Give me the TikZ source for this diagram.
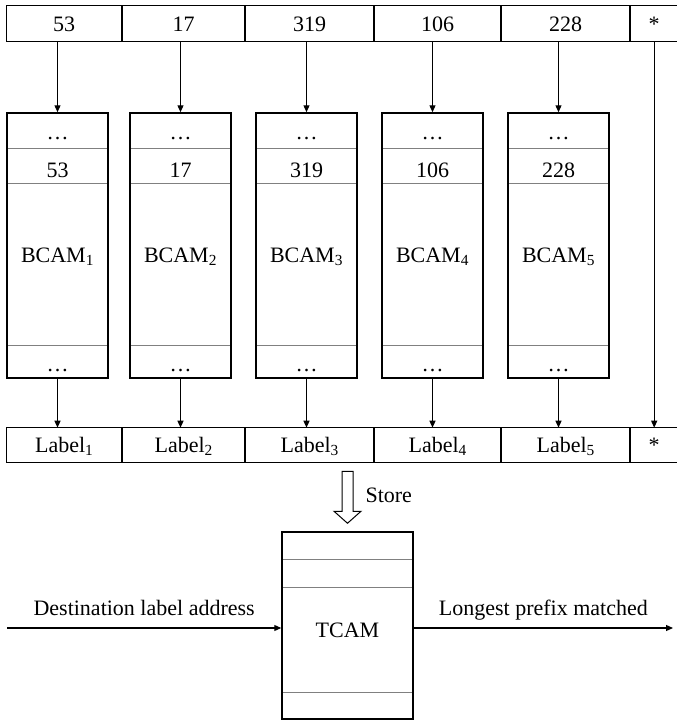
\documentclass[tikz,border=0pt]{standalone}
\usepackage{fontspec}
\setmainfont{Liberation Serif}
\usetikzlibrary{matrix,arrows.meta}

\begin{document}
\begin{tikzpicture}[x=1pt,y=-1pt,font=\fontsize{22}{26}\selectfont,
  cell/.style={draw,line width=1pt,outer sep=0pt,inner sep=0pt,text height=15pt,text depth=0pt},
  divider/.style={draw=gray,line width=.8pt},
  arr/.style={-{Triangle[length=7pt,width=6pt]},line width=1.2pt},
  bcam/.style={draw,line width=1.5pt,minimum width=101pt,minimum height=265pt,inner sep=0pt,
    path picture={\draw[divider]
      ([yshift=-35pt]path picture bounding box.north west) -- ([yshift=-35pt]path picture bounding box.north east)
      ([yshift=-70pt]path picture bounding box.north west) -- ([yshift=-70pt]path picture bounding box.north east)
      ([yshift=33pt]path picture bounding box.south west) -- ([yshift=33pt]path picture bounding box.south east);}},
  tcambox/.style={draw,line width=1.5pt,minimum width=131pt,minimum height=187pt,inner sep=0pt,
    path picture={\draw[divider]
      ([yshift=-27pt]path picture bounding box.north west) -- ([yshift=-27pt]path picture bounding box.north east)
      ([yshift=-55pt]path picture bounding box.north west) -- ([yshift=-55pt]path picture bounding box.north east)
      ([yshift=27pt]path picture bounding box.south west) -- ([yshift=27pt]path picture bounding box.south east);}},
  row/.style={matrix of nodes,anchor=north west,inner sep=0pt,column sep=0pt,
    column 1/.style={nodes={minimum width=115pt}},
    column 2/.style={nodes={minimum width=122pt}},
    column 3/.style={nodes={minimum width=128pt}},
    column 4/.style={nodes={minimum width=126pt}},
    column 5/.style={nodes={minimum width=128pt}},
    column 6/.style={nodes={minimum width=47pt}}}]
  \useasboundingbox (0,0) rectangle (677,723);

  % key row and label row
  \matrix (top) [row,nodes={cell,minimum height=36pt}] at (6,5)
  {
     53 & 17 & 319 & 106 & 228 & * \\};
  \matrix (lab) [row,nodes={cell,minimum height=35pt}] at (6,427)
  {
     Label\textsubscript{1} & Label\textsubscript{2} & Label\textsubscript{3} & Label\textsubscript{4} & Label\textsubscript{5} & * \\};

  % the five BCAMs
  \foreach \i/\x/\v in {1/57.5/53,2/180.5/17,3/306.5/319,4/432.5/106,5/558.5/228}
  {
    \node[bcam] (b\i) at (\x,245.5) {};
    \node[anchor=base] (d\i) at (\x,139) {\dots};
    \node[anchor=base] (v\i) at (\x,177) {\v};
    \node[anchor=base] (n\i) at (\x,262) {BCAM\textsubscript{\i}};
    \node[anchor=base] (e\i) at (\x,371) {\dots};
    \draw[arr] (top-1-\i.south -| b\i.north) -- (b\i.north);
    \draw[arr] (b\i.south) -- (b\i.south |- lab-1-\i.north);
  }
  \draw[arr] (top-1-6.south) -- (lab-1-6.north);

  % TCAM
  \node[tcambox] (tcam) at (347.5,625.5) {};
  \node (tc) at (347.5,630) {TCAM};
  \coordinate (storetip) at ([yshift=8pt]tcam.north);
  \draw[line width=1pt] (storetip) -- ++(13.5,-12) -- ++(-8,0) -- ++(0,-40) -- ++(-11,0) -- ++(0,40) -- ++(-8,0) -- cycle;
  \node[anchor=west] (store) at (362,495) {Store};

  \coordinate (src) at (7,628);
  \coordinate (dst) at (673,628);
  \draw[arr] (src) -- (src -| tcam.west)
    node[midway,anchor=base,yshift=13pt] (dla) {Destination label address};
  \draw[arr] (dst -| tcam.east) -- (dst)
    node[midway,anchor=base,yshift=13pt] (lpm) {Longest prefix matched};
\end{tikzpicture}
\end{document}
